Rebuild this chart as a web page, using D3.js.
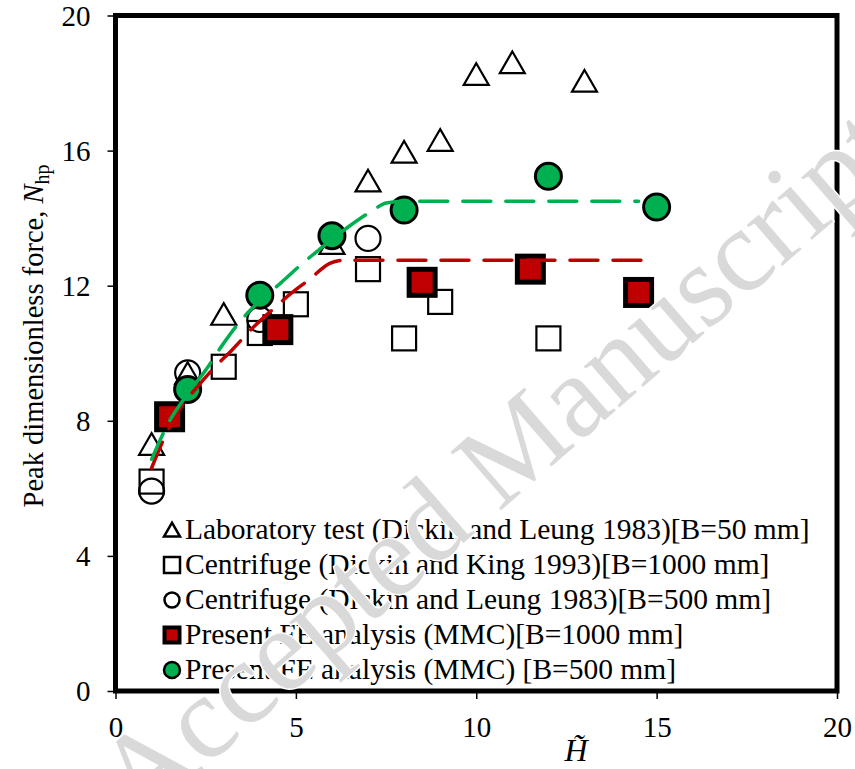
<!DOCTYPE html>
<html><head><meta charset="utf-8">
<script src="https://cdn.jsdelivr.net/npm/d3@7"></script>
<style>body{margin:0;background:#fff}svg{display:block}</style>
</head><body>
<svg id="c" width="855" height="769"></svg>
<script>
// ---- data ----
const labTest = [[1,7.25],[2,9.35],[3,11.1],[6,13.2],[7,15.05],[8,15.9],[9,16.25],[10,18.2],[11,18.55],[13,18.0]];
const centKing = [[1,6.2],[3,9.6],[4,10.6],[5,11.45],[7,12.49],[8,10.44],[9,11.52],[12,10.44]];
const centLeung = [[1,5.92],[2,9.42],[4,11.0],[7,13.4]];
const fe1000 = [[1.5,8.12],[4.5,10.7],[8.5,12.1],[11.5,12.49],[14.5,11.8]];
const fe500 = [[2,8.93],[4,11.72],[6,13.48],[8,14.24],[12,15.24],[15,14.33]];
const fitGreen = [[1,6.86],[1.5,8.0],[2,8.8],[2.5,9.5],[3,10.3],[3.5,11.0],[4,11.55],[4.6,12.1],[5.15,12.63],[5.66,13.08],[6.44,13.73],[7.13,14.23],[7.5,14.45],[8,14.5],[14.5,14.5]];
const fitRed = [[1,6.6],[1.3,7.37],[1.78,8.35],[2.28,9.02],[2.7,9.53],[3.25,10.12],[3.8,10.75],[4.36,11.3],[4.9,11.8],[5.38,12.19],[5.94,12.66],[6.3,12.75],[14.9,12.75]];
const xTicks = [0,5,10,15,20];
const yTicks = [0,4,8,12,16,20];
const legendLabels = [
  "Laboratory test (Dickin and Leung 1983)[B=50 mm]",
  "Centrifuge (Dickin and King 1993)[B=1000 mm]",
  "Centrifuge (Dickin and Leung 1983)[B=500 mm]",
  "Present FE analysis (MMC)[B=1000 mm]",
  "Present FE analysis (MMC) [B=500 mm]"
];

const FONT = '"Liberation Serif"';
const svg = d3.select("#c");
const x = d3.scaleLinear().domain([0,20]).range([115.5,837]);
const y = d3.scaleLinear().domain([0,20]).range([691,15.5]);
const GREEN = "#00B050", RED = "#C00000";

// axes
const xAxis = d3.axisBottom(x).tickValues(xTicks).tickSize(8).tickFormat(d3.format("d"));
const gx = svg.append("g").attr("transform","translate(0,691)").call(xAxis);
gx.select(".domain").remove();
gx.selectAll("line").attr("stroke","#000").attr("stroke-width",1.5);
gx.selectAll("text").style("font-family",FONT).style("font-size","29px").attr("fill","#000").attr("dy","0").attr("y",46);

const yAxis = d3.axisLeft(y).tickValues(yTicks).tickSize(8).tickFormat(d3.format("d"));
const gy = svg.append("g").attr("transform","translate(115.5,0)").call(yAxis);
gy.select(".domain").remove();
gy.selectAll("line").attr("stroke","#000").attr("stroke-width",1.5);
gy.selectAll("text").style("font-family",FONT).style("font-size","29px").attr("fill","#000").attr("x",-25).attr("dy","0.34em");

// frame
svg.append("rect").attr("x",x(0)).attr("y",y(20)).attr("width",x(20)-x(0)).attr("height",y(0)-y(20))
  .attr("fill","none").attr("stroke","#000").attr("stroke-width",5);

// markers
function tri(cx,cy,s){const h=s*Math.sqrt(3)/2;return `M${cx},${cy-h*0.6}L${cx+s/2},${cy+h*0.4}L${cx-s/2},${cy+h*0.4}Z`;}
const pts = svg.append("g");
pts.selectAll(".tri").data(labTest).join("path").attr("d",d=>tri(x(d[0]),y(d[1]),25))
  .attr("fill","none").attr("stroke","#000").attr("stroke-width",2.2);
pts.selectAll(".sq").data(centKing).join("rect").attr("x",d=>x(d[0])-12).attr("y",d=>y(d[1])-12)
  .attr("width",24).attr("height",24).attr("fill","none").attr("stroke","#000").attr("stroke-width",2.2);
pts.selectAll(".ci").data(centLeung).join("circle").attr("cx",d=>x(d[0])).attr("cy",d=>y(d[1])).attr("r",12.5)
  .attr("fill","none").attr("stroke","#000").attr("stroke-width",2.2);
pts.selectAll(".rs").data(fe1000).join("rect").attr("x",d=>x(d[0])-13).attr("y",d=>y(d[1])-13)
  .attr("width",26).attr("height",26).attr("fill",RED).attr("stroke","#000").attr("stroke-width",5);
pts.selectAll(".gc").data(fe500).join("circle").attr("cx",d=>x(d[0])).attr("cy",d=>y(d[1])).attr("r",13)
  .attr("fill",GREEN).attr("stroke","#000").attr("stroke-width",3);

// fit lines
const line = d3.line().x(d=>x(d[0])).y(d=>y(d[1])).curve(d3.curveMonotoneX);
svg.append("path").datum(fitRed).attr("d",line).attr("fill","none").attr("stroke",RED)
  .attr("stroke-width",3.5).attr("stroke-dasharray","28,15").attr("stroke-linecap","round");
svg.append("path").datum(fitGreen).attr("d",line).attr("fill","none").attr("stroke",GREEN)
  .attr("stroke-width",3.5).attr("stroke-dasharray","28,15").attr("stroke-linecap","round");

// legend
const lg = svg.append("g");
const rowY = i => 530 + i*35, mx = 172;
lg.append("path").attr("d",tri(mx,rowY(0)+1,16)).attr("fill","none").attr("stroke","#000").attr("stroke-width",2.5);
lg.append("rect").attr("x",mx-8).attr("y",rowY(1)-8).attr("width",16).attr("height",16).attr("fill","none").attr("stroke","#000").attr("stroke-width",2.5);
lg.append("circle").attr("cx",mx).attr("cy",rowY(2)).attr("r",7.5).attr("fill","none").attr("stroke","#000").attr("stroke-width",2.5);
lg.append("rect").attr("x",mx-7.5).attr("y",rowY(3)-7.5).attr("width",15).attr("height",15).attr("fill",RED).attr("stroke","#000").attr("stroke-width",4);
lg.append("circle").attr("cx",mx).attr("cy",rowY(4)).attr("r",8).attr("fill",GREEN).attr("stroke","#000").attr("stroke-width",2.5);
lg.selectAll("text").data(legendLabels).join("text").attr("x",185).attr("y",(d,i)=>rowY(i)+9)
  .style("font-family",FONT).style("font-size","29.5px").attr("fill","#000").text(d=>d);

// axis titles
const yt = svg.append("text").attr("transform","translate(43,336) rotate(-90)").attr("text-anchor","middle")
  .style("font-family",FONT).style("font-size","28.5px").attr("fill","#000");
yt.append("tspan").text("Peak dimensionless force, ");
yt.append("tspan").style("font-style","italic").text("N");
yt.append("tspan").style("font-size","20px").attr("dy",6).text("hp");
svg.append("text").attr("x",576).attr("y",761).attr("text-anchor","middle")
  .style("font-family",FONT).style("font-size","32px").style("font-style","italic").attr("fill","#000").text("H\u0303");

// watermark
svg.append("text").attr("transform","translate(522,492) rotate(-41)").attr("text-anchor","middle")
  .style("font-family",FONT).style("font-size","118px").attr("fill","#d9d9d9")
  .attr("stroke","#fff").attr("stroke-width",3).attr("paint-order","stroke")
  .text("Accepted Manuscript");
</script>
</body></html>
